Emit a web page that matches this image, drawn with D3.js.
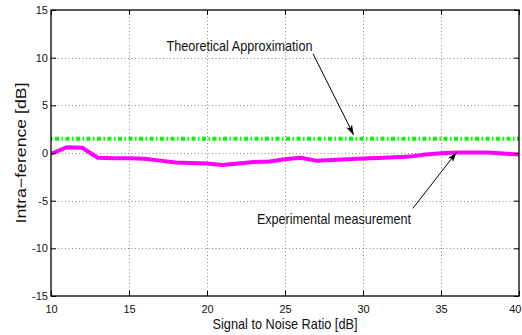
<!DOCTYPE html>
<html>
<head>
<meta charset="utf-8">
<script src="https://cdn.jsdelivr.net/npm/d3@7"></script>
<style>
  body { margin: 0; background: #fff; }
  svg { display: block; font-family: "Liberation Sans", Arial, sans-serif; }
</style>
</head>
<body>
<div id="chart"></div>
<script>
// Data
const snr = [10, 11, 12, 13, 14, 15, 16, 17, 18, 19, 20, 21, 22, 23, 24, 25,
  26, 27, 28, 29, 30, 31, 32, 33, 34, 35, 36, 37, 38, 39, 40];
const measured = [-0.1, 0.6, 0.55, -0.5, -0.55, -0.55, -0.6, -0.8, -1.0, -1.05,
  -1.1, -1.25, -1.1, -0.95, -0.9, -0.65, -0.5, -0.8, -0.73, -0.66, -0.58,
  -0.52, -0.45, -0.38, -0.15, -0.03, 0.05, 0.06, 0.05, -0.05, -0.15];
const theoryX = [10, 40];
const theoryY = [1.5, 1.5];

const xTicks = [10, 15, 20, 25, 30, 35, 40];
const yTicks = [-15, -10, -5, 0, 5, 10, 15];

const xLabel = "Signal to Noise Ratio [dB]";
const yLabel = "Intra\u2212ference [dB]";

// Annotations: text position and arrow start/tip in data units
const notes = [
  { text: "Theoretical Approximation", len: 146, tx: 17.4, ty: 10.75, ax: 26.8, ay: 10.4, bx: 29.4, by: 1.9 },
  { text: "Experimental measurement", len: 154, tx: 23.2, ty: -7.45, ax: 33.2, ay: -5.8, bx: 36.0, by: 0.08 }
];

const width = 522, height = 335;
const margin = { top: 10, right: 3, bottom: 39, left: 51 };

const svg = d3.select("#chart").append("svg")
  .attr("width", width)
  .attr("height", height);

const x = d3.scaleLinear().domain([10, 40]).range([margin.left, width - margin.right]);
const y = d3.scaleLinear().domain([-15, 15]).range([height - margin.bottom, margin.top]);

const x0 = x.range()[0], x1 = x.range()[1];
const y0 = y.range()[1], y1 = y.range()[0];

// Grid
const grid = svg.append("g")
  .attr("stroke", "#8a8a8a")
  .attr("stroke-width", 1)
  .attr("stroke-dasharray", "1,2.5");

grid.selectAll(".vg")
  .data(xTicks.slice(1, -1))
  .join("line")
  .attr("x1", (d) => Math.round(x(d)) + 0.5)
  .attr("x2", (d) => Math.round(x(d)) + 0.5)
  .attr("y1", y0)
  .attr("y2", y1);

grid.selectAll(".hg")
  .data(yTicks.slice(1, -1))
  .join("line")
  .attr("y1", (d) => Math.round(y(d)) + 0.5)
  .attr("y2", (d) => Math.round(y(d)) + 0.5)
  .attr("x1", x0)
  .attr("x2", x1);

svg.append("clipPath").attr("id", "plot")
  .append("rect")
  .attr("x", x0).attr("y", y0)
  .attr("width", x1 - x0).attr("height", y1 - y0);

const plot = svg.append("g").attr("clip-path", "url(#plot)");

// Theoretical approximation (green dash-dot)
plot.append("path")
  .datum(theoryX.map((d, i) => [d, theoryY[i]]))
  .attr("fill", "none")
  .attr("stroke", "#00ff00")
  .attr("stroke-width", 4)
  .attr("stroke-dasharray", "4,2.5,1.5,2.5")
  .attr("stroke-dashoffset", 6.5)
  .attr("d", d3.line().x((d) => x(d[0])).y((d) => y(d[1])));

// Experimental measurement (magenta)
plot.append("path")
  .datum(snr.map((d, i) => [d, measured[i]]))
  .attr("fill", "none")
  .attr("stroke", "#ff00ff")
  .attr("stroke-width", 4)
  .attr("stroke-linejoin", "round")
  .attr("d", d3.line().x((d) => x(d[0])).y((d) => y(d[1])));

// Axes with inward ticks on all four sides
const tickLen = 5;
const axBottom = svg.append("g").attr("transform", `translate(0,${y1})`)
  .call(d3.axisBottom(x).tickValues(xTicks).tickSizeInner(-tickLen).tickSizeOuter(0).tickPadding(9));
const axTop = svg.append("g").attr("transform", `translate(0,${y0})`)
  .call(d3.axisTop(x).tickValues(xTicks).tickSizeInner(-tickLen).tickSizeOuter(0).tickFormat(""));
const axLeft = svg.append("g").attr("transform", `translate(${x0},0)`)
  .call(d3.axisLeft(y).tickValues(yTicks).tickSizeInner(-tickLen).tickSizeOuter(0).tickPadding(3)
    .tickFormat((d) => String(d).replace("\u2212", "-")));
const axRight = svg.append("g").attr("transform", `translate(${x1},0)`)
  .call(d3.axisRight(y).tickValues(yTicks).tickSizeInner(-tickLen).tickSizeOuter(0).tickFormat(""));

[axBottom, axTop, axLeft, axRight].forEach((g) => {
  g.select(".domain").remove();
  g.selectAll(".tick line").attr("stroke", "#000").attr("stroke-width", 1);
  g.selectAll("text")
    .attr("font-family", "Liberation Sans, Arial, sans-serif")
    .attr("font-size", 11)
    .attr("fill", "#111");
});
axBottom.selectAll("text").attr("dy", "0.71em");
// keep the last label inside the window
axBottom.selectAll(".tick")
  .filter((d) => d === xTicks[xTicks.length - 1])
  .select("text")
  .attr("text-anchor", "end")
  .attr("x", width - 1 - x1);

// Box
svg.append("rect")
  .attr("x", x0).attr("y", y0)
  .attr("width", x1 - x0).attr("height", y1 - y0)
  .attr("fill", "none")
  .attr("stroke", "#000")
  .attr("stroke-width", 1.3);

// Axis titles
svg.append("text")
  .attr("x", (x0 + x1) / 2)
  .attr("y", 329)
  .attr("text-anchor", "middle")
  .attr("font-size", 15)
  .attr("textLength", 145)
  .attr("lengthAdjust", "spacingAndGlyphs")
  .attr("fill", "#111")
  .text(xLabel);

svg.append("text")
  .attr("transform", `translate(26,${(y0 + y1) / 2}) rotate(-90)`)
  .attr("text-anchor", "middle")
  .attr("font-size", 15)
  .attr("textLength", 141)
  .attr("lengthAdjust", "spacingAndGlyphs")
  .attr("fill", "#111")
  .text(yLabel);

// Annotations with arrows
svg.append("defs").append("marker")
  .attr("id", "head")
  .attr("viewBox", "0 -5 10 10")
  .attr("refX", 10)
  .attr("refY", 0)
  .attr("markerWidth", 10)
  .attr("markerHeight", 10)
  .attr("markerUnits", "userSpaceOnUse")
  .attr("orient", "auto")
  .append("path")
  .attr("d", "M0,-3.2L10,0L0,3.2L2.5,0Z")
  .attr("fill", "#000");

notes.forEach((n) => {
  svg.append("text")
    .attr("x", x(n.tx))
    .attr("y", y(n.ty))
    .attr("font-size", 15)
    .attr("textLength", n.len)
    .attr("lengthAdjust", "spacingAndGlyphs")
    .attr("fill", "#111")
    .text(n.text);

  svg.append("line")
    .attr("x1", x(n.ax)).attr("y1", y(n.ay))
    .attr("x2", x(n.bx)).attr("y2", y(n.by))
    .attr("stroke", "#000")
    .attr("stroke-width", 1)
    .attr("marker-end", "url(#head)");
});
</script>
</body>
</html>
